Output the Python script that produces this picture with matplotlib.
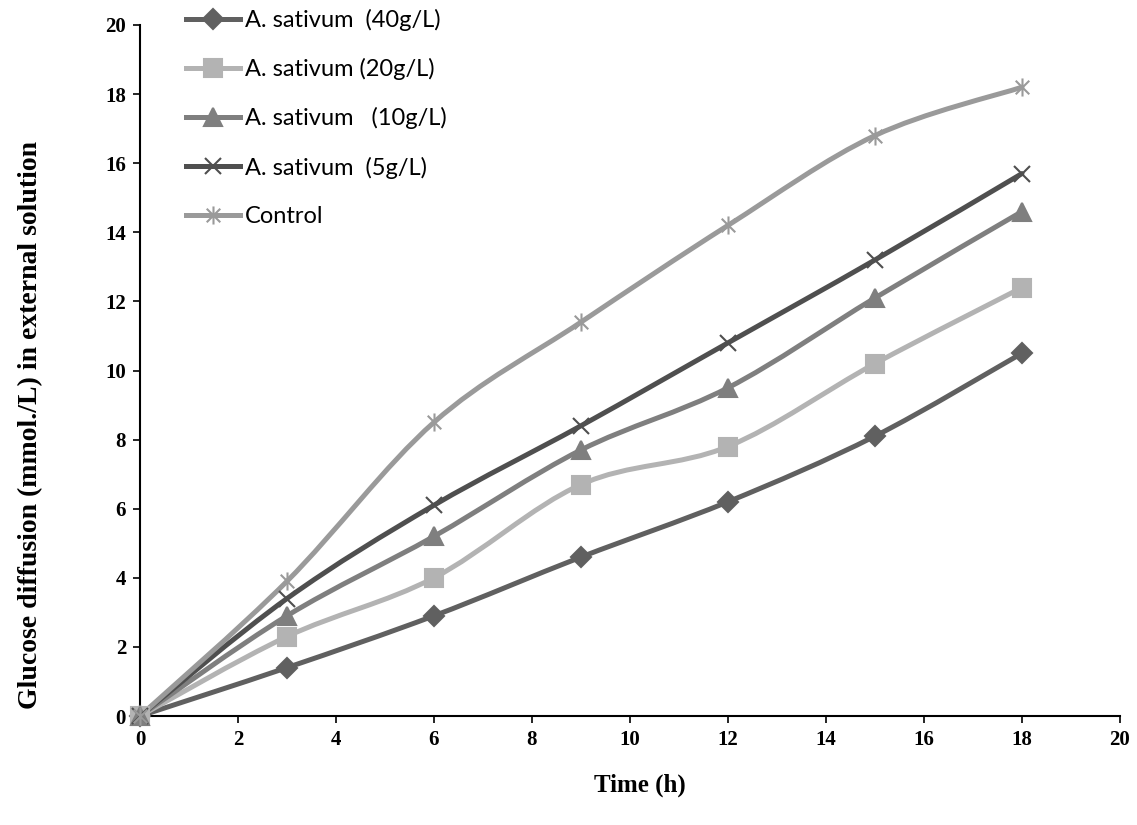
import numpy as np
import matplotlib
matplotlib.use('Agg')
from matplotlib import pyplot as plt
from matplotlib.path import Path
from matplotlib.patches import PathPatch
from matplotlib.lines import Line2D

# data
time_h = [0, 3, 6, 9, 12, 15, 18]
as_40 = [0, 1.4, 2.9, 4.6, 6.2, 8.1, 10.5]
as_20 = [0, 2.3, 4.0, 6.7, 7.8, 10.2, 12.4]
as_10 = [0, 2.9, 5.2, 7.7, 9.5, 12.1, 14.6]
as_5 = [0, 3.4, 6.1, 8.4, 10.8, 13.2, 15.7]
control = [0, 3.9, 8.5, 11.4, 14.2, 16.8, 18.2]

labels = ['A. sativum  (40g/L)', 'A. sativum (20g/L)', 'A. sativum   (10g/L)',
          'A. sativum  (5g/L)', 'Control']

# asterisk marker like the excel one (x plus a vertical bar)
star = Path([(0, -1), (0, 1), (-0.75, -0.75), (0.75, 0.75), (-0.75, 0.75), (0.75, -0.75)],
            [Path.MOVETO, Path.LINETO, Path.MOVETO, Path.LINETO, Path.MOVETO, Path.LINETO])

styles = [
    dict(color='#606060', marker='D', ms=10),
    dict(color='#b3b3b3', marker='s', ms=13),
    dict(color='#7f7f7f', marker='^', ms=13),
    dict(color='#4f4f4f', marker='x', ms=12),
    dict(color='#9a9a9a', marker=star, ms=13),
]


def smooth_path(x, y):
    # catmull-rom style bezier, like excel's smoothed line
    x = np.asarray(x, float)
    y = np.asarray(y, float)
    n = len(x)
    verts = [(x[0], y[0])]
    codes = [Path.MOVETO]
    for i in range(n - 1):
        i0 = max(i - 1, 0)
        i3 = min(i + 2, n - 1)
        c1 = (x[i] + (x[i + 1] - x[i0]) / 6, y[i] + (y[i + 1] - y[i0]) / 6)
        c2 = (x[i + 1] - (x[i3] - x[i]) / 6, y[i + 1] - (y[i3] - y[i]) / 6)
        verts += [c1, c2, (x[i + 1], y[i + 1])]
        codes += [Path.CURVE4] * 3
    return Path(verts, codes)


fig = plt.figure(figsize=(11.37, 8.25), dpi=100)
ax = fig.add_axes([0.1231, 0.1321, 0.8619, 0.8376])

series = [as_40, as_20, as_10, as_5, control]
handles = []
for vals, st, lab in zip(series, styles, labels):
    ax.add_patch(PathPatch(smooth_path(time_h, vals), facecolor='none',
                           edgecolor=st['color'], lw=3.6, capstyle='round', zorder=2))
    ax.plot(time_h, vals, linestyle='none', marker=st['marker'], ms=st['ms'],
            color=st['color'], mec=st['color'], mew=1.5, zorder=3, clip_on=False)
    handles.append(Line2D([], [], color=st['color'], lw=3.6, marker=st['marker'],
                          ms=st['ms'], mec=st['color'], mew=1.5))

ax.set_xlim(0, 20)
ax.set_ylim(0, 20)
ax.set_xticks(range(0, 21, 2))
ax.set_yticks(range(0, 21, 2))
ax.spines['top'].set_visible(False)
ax.spines['right'].set_visible(False)
ax.spines['left'].set_linewidth(1.5)
ax.spines['bottom'].set_linewidth(1.5)
ax.tick_params(direction='out', length=5, width=1.2, pad=5)
for t in ax.get_xticklabels() + ax.get_yticklabels():
    t.set_fontfamily('Liberation Serif')
    t.set_fontweight('bold')
    t.set_fontsize(15)

fig.text(0.563, 0.048, 'Time (h)', ha='center', va='center', family='Liberation Serif',
         fontweight='bold', fontsize=18)
fig.text(0.027, 0.485, 'Glucose diffusion (mmol./L) in external solution', rotation=90,
         ha='center', va='center', family='Liberation Serif', fontweight='bold', fontsize=20)

leg = fig.legend(handles, labels, loc='upper left', bbox_to_anchor=(0.145, 1.015),
                 frameon=False, handlelength=2.3, handletextpad=0.2, labelspacing=1.15,
                 prop={'family': 'Lato', 'size': 17})

fig.savefig('out.png', dpi=100)
